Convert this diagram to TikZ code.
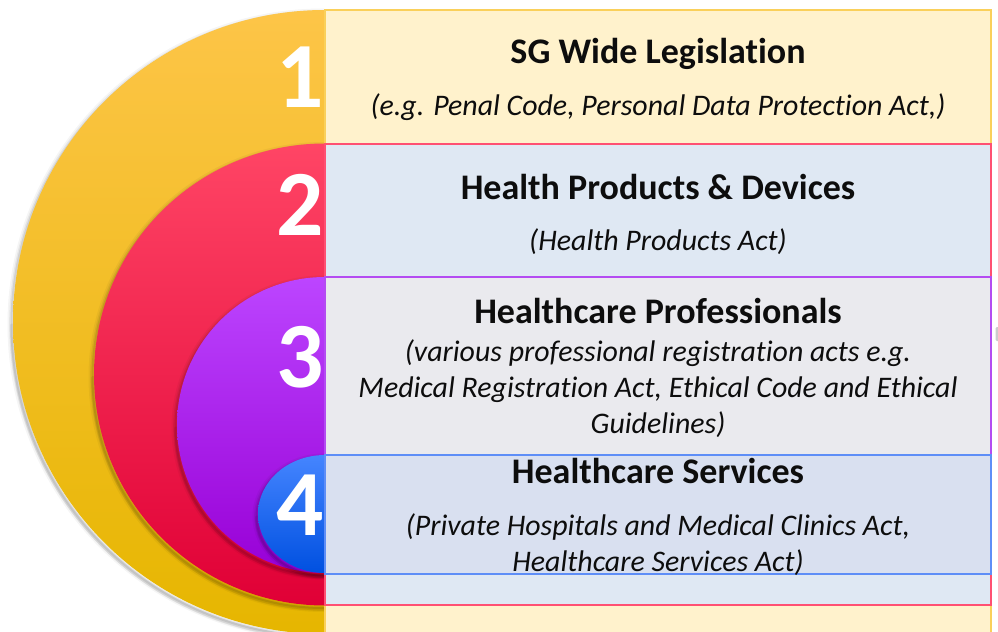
\documentclass[tikz,border=0pt]{standalone}
\usepackage{fontspec}
\setmainfont{Carlito}[Ligatures={NoCommon,NoContextual},RawFeature={-liga;-clig;-calt}]
% disc colours (top / middle / bottom of each vertical gradient)
\definecolor{yTop}{HTML}{FDC548}\definecolor{yMid}{HTML}{FBC100}\definecolor{yBot}{HTML}{E6B600}
\definecolor{rTop}{HTML}{FF4565}\definecolor{rMid}{HTML}{FF0A45}\definecolor{rBot}{HTML}{E00036}
\definecolor{pTop}{HTML}{BC45FF}\definecolor{pMid}{HTML}{B000FF}\definecolor{pBot}{HTML}{9800D6}
\definecolor{bTop}{HTML}{4585FF}\definecolor{bMid}{HTML}{0066FF}\definecolor{bBot}{HTML}{0050E0}
% panel colours
\definecolor{boxYfill}{HTML}{FFF2CC}\definecolor{boxYline}{HTML}{FAD05A}
\definecolor{boxRfill}{HTML}{DFE8F3}\definecolor{boxRline}{HTML}{FF5072}
\definecolor{boxPfill}{HTML}{EAEAEE}\definecolor{boxPline}{HTML}{B44CF2}
\definecolor{boxBfill}{HTML}{D9E0F0}\definecolor{boxBline}{HTML}{5E8EF7}
\definecolor{inktext}{HTML}{0D0D0D}
% left half of an ellipse whose straight side lies on x = 325
\newcommand\halfdisc[3]{(325,#1+#3) arc[start angle=90,end angle=270,x radius=#2,y radius=#3] -- cycle}
\newcommand\halfarc[3]{(325,#1+#3) arc[start angle=90,end angle=270,x radius=#2,y radius=#3]}
\begin{document}
\begin{tikzpicture}[x=0.75pt,y=-0.75pt,
  panel/.style={line width=1.1pt},
  ttl/.style={anchor=base,inner sep=0pt,text=inktext,font=\fontsize{27}{32}\selectfont\bfseries},
  sub/.style={anchor=base,inner sep=0pt,text=inktext,font=\fontsize{22.4}{26.6}\selectfont\itshape},
  digit/.style={anchor=base,inner sep=0pt,text=white,font=\fontsize{70}{70}\selectfont\bfseries},
  soft/.style={black,line cap=round}]
\useasboundingbox (0,0) rectangle (998,631);
\fill[white] (0,0) rectangle (998,631);
\clip (0,0) rectangle (998,631);

% soft shadow drawn under the rim of a disc, stronger towards the lower left
\newcommand\discshadow[3]{%
  \begin{scope}[shift={(-1.5,2.5)}]
    \draw[soft,line width=6pt,opacity=.04] \halfarc{#1}{#2}{#3};
    \draw[soft,line width=3.5pt,opacity=.06] \halfarc{#1}{#2}{#3};
    \draw[soft,line width=1.5pt,opacity=.09] \halfarc{#1}{#2}{#3};
  \end{scope}
  \begin{scope}[shift={(-1,3.5)}]
    \draw[soft,line width=3pt,opacity=.06] (325,#1+#3) arc[start angle=90,end angle=180,x radius=#2,y radius=#3];
  \end{scope}}

% nested half discs, outermost first
\discshadow{322}{312}{312}
\shade[top color=yTop,middle color=yMid,bottom color=yBot] \halfdisc{322}{312}{312};
\discshadow{374.5}{231}{231}
\shade[top color=rTop,middle color=rMid,bottom color=rBot] \halfdisc{374.5}{231}{231};
\discshadow{425}{148}{148}
\shade[top color=pTop,middle color=pMid,bottom color=pBot] \halfdisc{425}{148}{148};
\discshadow{514}{67}{59}
\shade[top color=bTop,middle color=bMid,bottom color=bBot] \halfdisc{514}{67}{59};

% stacked panels
\draw[panel,fill=boxYfill,draw=boxYline] (325,10) rectangle (991,650);
\coordinate (p1) at (325,10);
\draw[panel,fill=boxRfill,draw=boxRline] (325,144) rectangle (991,605);
\coordinate (p2) at (325,144);
\draw[panel,fill=boxPfill,draw=boxPline] (325,277) rectangle (991,574);
\coordinate (p3) at (325,277);
\draw[panel,fill=boxBfill,draw=boxBline] (325,455) rectangle (991,574);
\coordinate (p4) at (325,455);

% small grey mark at the right edge
\fill[black!20,rounded corners=1pt] (995.5,327) rectangle (1001,341);

% level numbers
\node[digit] (n1) at (300,108) {1};
\node[digit] (n2) at (300,235) {2};
\node[digit] (n3) at (300,387) {3};
\node[digit] (n4) at (300,535) {4};

% panel texts
\node[ttl] (t1) at (658,63.5) {SG Wide Legislation};
\node[sub] (s1) at (658,115.5) {(e.g. Penal Code, Personal Data Protection Act,)};

\node[ttl] (t2) at (658,199.5) {Health Products \& Devices};
\node[sub] (s2) at (658,250.5) {(Health Products Act)};

\node[ttl] (t3) at (658,323.5) {Healthcare Professionals};
\node[sub] (s3a) at (658,361.5) {(various professional registration acts e.g.};
\node[sub] (s3b) at (658,397.5) {Medical Registration Act, Ethical Code and Ethical};
\node[sub] (s3c) at (658,433) {Guidelines)};

\node[ttl] (t4) at (658,483) {Healthcare Services};
\node[sub] (s4a) at (658,535.5) {(Private Hospitals and Medical Clinics Act,};
\node[sub] (s4b) at (658,571.5) {Healthcare Services Act)};
\end{tikzpicture}
\end{document}
